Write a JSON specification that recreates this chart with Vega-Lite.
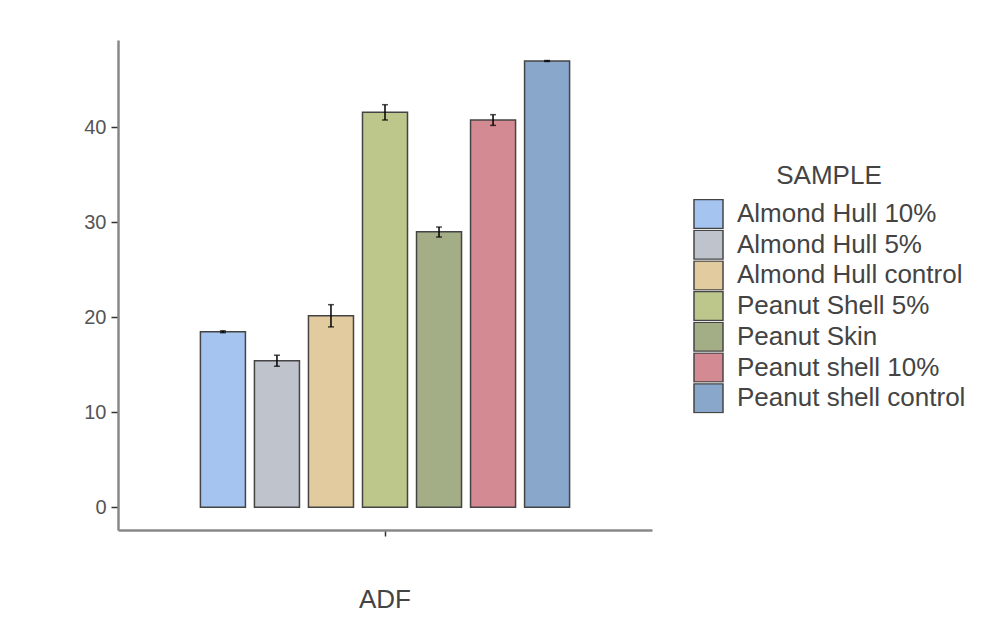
{
  "$schema": "https://vega.github.io/schema/vega-lite/v6.json",
  "width": 534,
  "height": 490,
  "padding": {"left": 83, "top": 40, "right": 0, "bottom": 0},
  "background": "white",
  "config": {
    "view": {"stroke": null},
    "font": "Liberation Sans",
    "axis": {"grid": false}
  },
  "data": {
    "values": [
      {"variable": "ADF", "SAMPLE": "Almond Hull 10%", "value": 18.48, "lo": 18.38, "hi": 18.58},
      {"variable": "ADF", "SAMPLE": "Almond Hull 5%", "value": 15.43, "lo": 14.85, "hi": 16.01},
      {"variable": "ADF", "SAMPLE": "Almond Hull control", "value": 20.17, "lo": 18.99, "hi": 21.33},
      {"variable": "ADF", "SAMPLE": "Peanut Shell 5%", "value": 41.58, "lo": 40.77, "hi": 42.38},
      {"variable": "ADF", "SAMPLE": "Peanut Skin", "value": 29.0, "lo": 28.45, "hi": 29.5},
      {"variable": "ADF", "SAMPLE": "Peanut shell 10%", "value": 40.77, "lo": 40.2, "hi": 41.33},
      {"variable": "ADF", "SAMPLE": "Peanut shell control", "value": 46.98, "lo": 46.93, "hi": 47.03}
    ]
  },
  "encoding": {
    "x": {
      "field": "variable",
      "type": "nominal",
      "title": null,
      "scale": {"paddingInner": 0, "paddingOuter": 0.206},
      "axis": {
        "labelAngle": 0,
        "labelFontSize": 26,
        "labelColor": "#444",
        "labelPadding": 50,
        "tickSize": 6,
        "tickColor": "#333",
        "tickWidth": 1.5,
        "domainColor": "#888",
        "domainWidth": 2.5
      }
    },
    "xOffset": {
      "field": "SAMPLE",
      "type": "nominal",
      "sort": ["Almond Hull 10%", "Almond Hull 5%", "Almond Hull control", "Peanut Shell 5%", "Peanut Skin", "Peanut shell 10%", "Peanut shell control"],
      "scale": {"paddingInner": 0.1667, "paddingOuter": 0.0833}
    }
  },
  "layer": [
    {
      "mark": {"type": "bar", "stroke": "#444", "strokeWidth": 1.5},
      "encoding": {
        "y": {
          "field": "value",
          "type": "quantitative",
          "title": null,
          "scale": {"domain": [-2.39, 49.19], "nice": false, "zero": false},
          "axis": {
            "values": [0, 10, 20, 30, 40],
            "labelFontSize": 20,
            "labelColor": "#555",
            "labelPadding": 5,
            "tickSize": 7,
            "tickColor": "#333",
            "tickWidth": 1.5,
            "domainColor": "#888",
            "domainWidth": 2.5
          }
        },
        "y2": {"datum": 0},
        "color": {
          "field": "SAMPLE",
          "type": "nominal",
          "sort": ["Almond Hull 10%", "Almond Hull 5%", "Almond Hull control", "Peanut Shell 5%", "Peanut Skin", "Peanut shell 10%", "Peanut shell control"],
          "scale": {"range": ["#a5c4f0", "#bfc4cc", "#e2cb9e", "#bec78b", "#a4ae86", "#d48a92", "#89a6cb"]},
          "legend": {
            "orient": "none",
            "legendX": 575,
            "legendY": 123,
            "title": "SAMPLE",
            "titleFontSize": 26,
            "titleFontWeight": "normal",
            "titleColor": "#444",
            "titleAnchor": "middle",
            "titlePadding": 10,
            "labelFontSize": 26,
            "labelColor": "#444",
            "labelOffset": 13,
            "labelLimit": 400,
            "symbolType": "square",
            "symbolSize": 841,
            "symbolStrokeColor": "#444",
            "symbolStrokeWidth": 1.5,
            "symbolOpacity": 1,
            "clipHeight": 30,
            "rowPadding": 0.7
          }
        }
      }
    },
    {
      "mark": {"type": "rule", "color": "black", "strokeWidth": 1.5},
      "encoding": {
        "y": {"field": "lo", "type": "quantitative"},
        "y2": {"field": "hi"}
      }
    },
    {
      "mark": {"type": "tick", "color": "black", "thickness": 1.5, "size": 6},
      "encoding": {
        "y": {"field": "lo", "type": "quantitative"}
      }
    },
    {
      "mark": {"type": "tick", "color": "black", "thickness": 1.5, "size": 6},
      "encoding": {
        "y": {"field": "hi", "type": "quantitative"}
      }
    }
  ]
}
